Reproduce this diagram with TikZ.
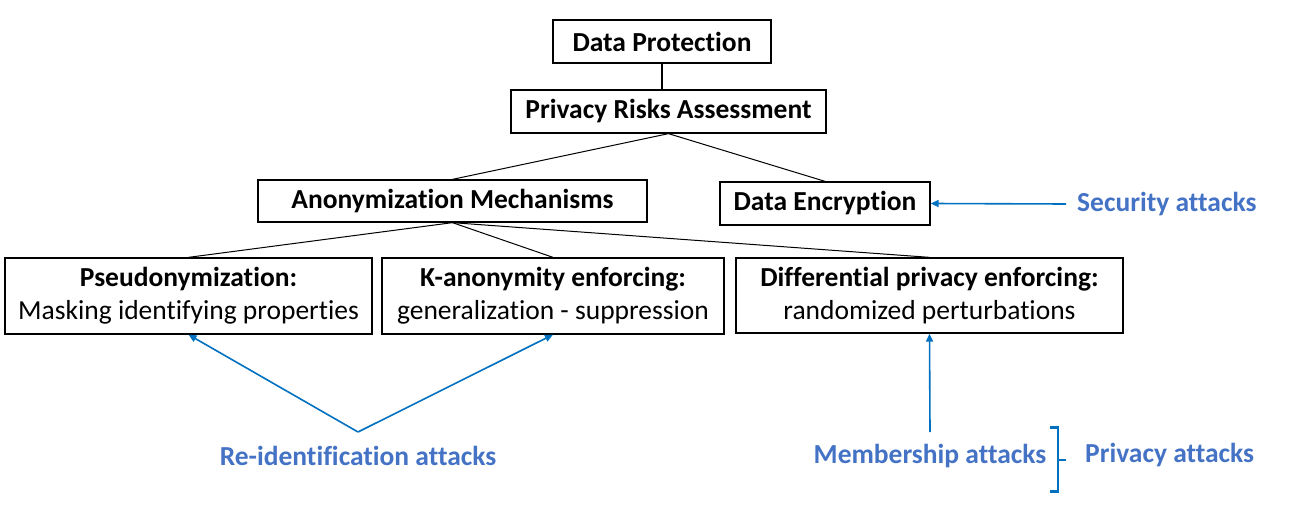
\documentclass[tikz,border=0pt]{standalone}
\usepackage{fontspec}
\setmainfont{Carlito}[Ligatures=NoCommon]
\usetikzlibrary{arrows.meta}
\definecolor{atk}{HTML}{4472C4}
\definecolor{arr}{HTML}{0070C0}
\begin{document}
\begin{tikzpicture}[x=1pt,y=-1pt,
  box/.style={draw=black,line width=1.3pt,inner sep=0pt,align=center,font=\fontsize{27.5}{33}\selectfont},
  atklabel/.style={text=atk,font=\fontsize{27.5}{33}\selectfont\bfseries,inner sep=0pt},
  conn/.style={draw=black,line width=1pt},
  attack/.style={draw=arr,line width=1.6pt,-{Triangle[length=8pt,width=7pt]}}]
\useasboundingbox (0,0) rectangle (1298,513);
\node[box,minimum width=218pt,minimum height=43pt] (dp) at (662,41.5) {\bfseries Data Protection};
\node[box,minimum width=315pt,minimum height=43pt] (pra) at (668.5,111.5) {\bfseries Privacy Risks Assessment};
\node[box,minimum width=389pt,minimum height=42pt] (am) at (452.5,201) {\bfseries Anonymization Mechanisms};
\node[box,minimum width=210pt,minimum height=43pt] (de) at (825,203.5) {\bfseries Data Encryption};
\node[box,minimum width=367pt,minimum height=76pt] (ps) at (188.5,296) {\textbf{Pseudonymization:}\\Masking identifying properties};
\node[box,minimum width=342pt,minimum height=76pt] (ka) at (553,296) {\textbf{K-anonymity enforcing:}\\generalization - suppression};
\node[box,minimum width=387pt,minimum height=75pt] (dpe) at (929.5,295.5) {\textbf{Differential privacy enforcing:}\\randomized perturbations};
\draw[conn,line width=1.5pt] (dp.south) -- (dp.south |- pra.north);
\draw[conn] (pra.south) -- (am.north);
\draw[conn] (pra.south) -- (de.north);
\draw[conn] (am.south) -- (ps.north);
\draw[conn] (am.south) -- (ka.north);
\draw[conn] (am.south) -- (dpe.north);
\node[atklabel,anchor=west] (sa) at (1077,204) {Security attacks};
\coordinate (sastart) at (1066,204);
\draw[attack] (sastart) -- (de.east);
\coordinate (rip) at (358,432);
\node[atklabel] (ri) at (358,456) {Re-identification attacks};
\draw[attack] (rip) -- (ps.south);
\draw[attack] (rip) -- (ka.south);
\coordinate (mp) at (930,432);
\node[atklabel] (ma) at (930,456) {Membership attacks};
\draw[attack] (mp) -- (dpe.south);
\draw[arr,line width=2.5pt,line join=miter] (1050,427.5) -- (1058,427.5) -- (1058,491.5) -- (1050,491.5);
\draw[arr,line width=2.5pt] (1057,460) -- (1066,460);
\node[atklabel,anchor=west] (pa) at (1085,455) {Privacy attacks};
\end{tikzpicture}
\end{document}
